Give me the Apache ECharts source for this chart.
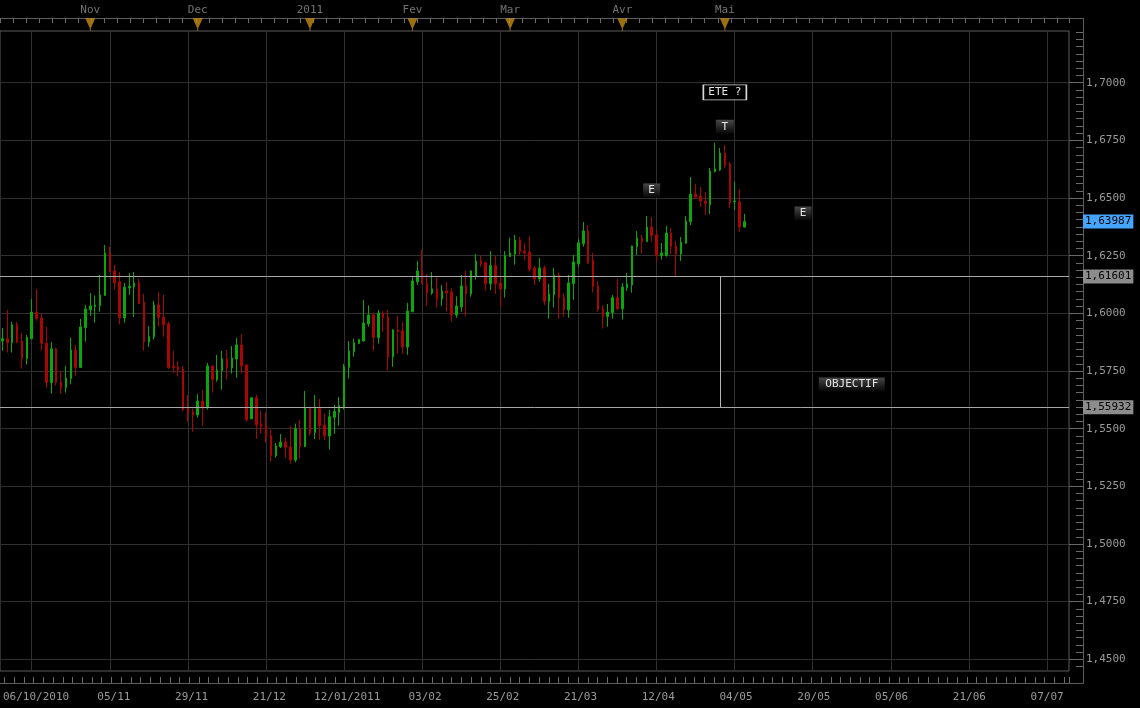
<!DOCTYPE html>
<html><head><meta charset="utf-8">
<script src="https://cdn.jsdelivr.net/npm/echarts@6/dist/echarts.min.js"></script>
<style>html,body{margin:0;padding:0;background:#000;}#c{width:1140px;height:708px;}</style>
</head><body><div id="c"></div>
<script>
// ---------------- DATA ----------------
const opens = [1.5880,1.5890,1.5873,1.5950,1.5880,1.5804,1.5890,1.6006,1.5980,1.5871,
1.5700,1.5846,1.5702,1.5678,1.5717,1.5841,1.5765,1.5938,1.6016,1.6029,
1.6033,1.6077,1.6262,1.6184,1.6137,1.5980,1.6110,1.6114,1.6132,1.6049,
1.5876,1.5898,1.6036,1.5984,1.5954,1.5772,1.5768,1.5759,1.5588,1.5574,
1.5559,1.5620,1.5594,1.5772,1.5713,1.5752,1.5802,1.5763,1.5802,1.5863,
1.5776,1.5543,1.5634,1.5522,1.5513,1.5470,1.5383,1.5422,1.5442,1.5421,
1.5364,1.5500,1.5422,1.5591,1.5483,1.5587,1.5516,1.5468,1.5549,1.5570,
1.5594,1.5765,1.5834,1.5869,1.5880,1.5954,1.5993,1.5895,1.6000,1.5984,
1.5811,1.5928,1.5924,1.5854,1.6007,1.6137,1.6184,1.6130,1.6088,1.6106,
1.6062,1.6097,1.6093,1.5993,1.6028,1.6119,1.6084,1.6161,1.6227,1.6220,
1.6129,1.6207,1.6132,1.6106,1.6246,1.6257,1.6318,1.6270,1.6266,1.6197,
1.6149,1.6197,1.6051,1.6080,1.6166,1.6070,1.6015,1.6129,1.6215,1.6302,
1.6357,1.6231,1.6119,1.6019,1.5986,1.6003,1.6068,1.6020,1.6111,1.6123,
1.6289,1.6327,1.6311,1.6374,1.6340,1.6250,1.6250,1.6348,1.6292,1.6257,
1.6304,1.6397,1.6517,1.6509,1.6487,1.6470,1.6614,1.6621,1.6695,1.6647,
1.6484,1.6483,1.6374];
const closes = [1.5890,1.5873,1.5950,1.5876,1.5804,1.5895,1.6006,1.5977,1.5870,1.5700,
1.5846,1.5700,1.5678,1.5720,1.5841,1.5765,1.5941,1.6019,1.6032,1.6036,
1.6080,1.6262,1.6181,1.6132,1.5980,1.6114,1.6117,1.6132,1.6042,1.5876,
1.5900,1.6036,1.5981,1.5950,1.5765,1.5765,1.5754,1.5583,1.5568,1.5559,
1.5620,1.5594,1.5772,1.5713,1.5754,1.5802,1.5763,1.5806,1.5863,1.5772,
1.5539,1.5634,1.5516,1.5507,1.5465,1.5383,1.5425,1.5442,1.5418,1.5364,
1.5500,1.5422,1.5591,1.5480,1.5587,1.5513,1.5468,1.5552,1.5574,1.5600,
1.5768,1.5837,1.5873,1.5886,1.5958,1.5993,1.5895,1.6002,1.5981,1.5811,
1.5928,1.5921,1.5854,1.6010,1.6140,1.6184,1.6130,1.6090,1.6106,1.6062,
1.6097,1.6088,1.5993,1.6032,1.6119,1.6084,1.6184,1.6227,1.6215,1.6129,
1.6207,1.6129,1.6106,1.6250,1.6262,1.6318,1.6266,1.6262,1.6191,1.6149,
1.6197,1.6051,1.6084,1.6166,1.6068,1.6015,1.6132,1.6223,1.6306,1.6357,
1.6218,1.6116,1.6015,1.5986,1.6006,1.6068,1.6019,1.6114,1.6127,1.6292,
1.6327,1.6311,1.6374,1.6337,1.6252,1.6262,1.6348,1.6289,1.6257,1.6309,
1.6400,1.6517,1.6504,1.6487,1.6477,1.6617,1.6626,1.6695,1.6643,1.6478,
1.6487,1.6374,1.63987];
const lows = [1.5838,1.5830,1.5830,1.5870,1.5760,1.5778,1.5888,1.5968,1.5838,1.5678,
1.5652,1.5687,1.5652,1.5656,1.5692,1.5730,1.5763,1.5877,1.5990,1.5960,
1.6007,1.6075,1.6178,1.6103,1.5951,1.5960,1.6080,1.5984,1.6040,1.5838,
1.5854,1.5886,1.5942,1.5898,1.5759,1.5741,1.5726,1.5575,1.5530,1.5487,
1.5548,1.5513,1.5583,1.5656,1.5704,1.5669,1.5713,1.5739,1.5721,1.5739,
1.5530,1.5541,1.5455,1.5478,1.5439,1.5357,1.5374,1.5416,1.5374,1.5348,
1.5354,1.5370,1.5420,1.5470,1.5454,1.5452,1.5452,1.5409,1.5478,1.5513,
1.5583,1.5717,1.5812,1.5866,1.5877,1.5942,1.5837,1.5869,1.5919,1.5752,
1.5768,1.5825,1.5824,1.5820,1.6005,1.6123,1.6128,1.6032,1.6080,1.6026,
1.6032,1.6007,1.5964,1.5981,1.6007,1.5986,1.6072,1.6146,1.6202,1.6098,
1.6101,1.6085,1.6029,1.6068,1.6244,1.6211,1.6253,1.6231,1.6181,1.6123,
1.6137,1.6036,1.5977,1.6025,1.5977,1.5986,1.5981,1.6059,1.6201,1.6289,
1.6214,1.6090,1.6007,1.5934,1.5942,1.5977,1.6016,1.5973,1.6098,1.6090,
1.6253,1.6259,1.6309,1.6311,1.6224,1.6233,1.6246,1.6256,1.6162,1.6227,
1.6302,1.6383,1.6496,1.6461,1.6426,1.6431,1.6612,1.6617,1.6630,1.6457,
1.6448,1.6353,1.6372];
const highs = [1.5937,1.6015,1.5963,1.5963,1.5915,1.5906,1.6062,1.6106,1.6000,1.5941,
1.5876,1.5849,1.5750,1.5772,1.5893,1.5863,1.5976,1.6036,1.6088,1.6077,
1.6166,1.6296,1.6290,1.6210,1.6178,1.6132,1.6175,1.6179,1.6149,1.6084,
1.5945,1.6054,1.6093,1.6080,1.5963,1.5837,1.5793,1.5772,1.5646,1.5588,
1.5650,1.5668,1.5785,1.5774,1.5820,1.5837,1.5841,1.5858,1.5893,1.5910,
1.5778,1.5637,1.5646,1.5577,1.5570,1.5496,1.5438,1.5477,1.5461,1.5512,
1.5522,1.5538,1.5663,1.5596,1.5646,1.5629,1.5565,1.5581,1.5603,1.5637,
1.5781,1.5880,1.5890,1.5890,1.6058,1.6035,1.6004,1.6015,1.6009,1.6015,
1.5932,1.5989,1.5963,1.6045,1.6159,1.6227,1.6275,1.6171,1.6179,1.6156,
1.6123,1.6136,1.6108,1.6074,1.6166,1.6184,1.6186,1.6257,1.6250,1.6224,
1.6270,1.6249,1.6159,1.6270,1.6328,1.6340,1.6331,1.6304,1.6335,1.6205,
1.6240,1.6207,1.6127,1.6197,1.6178,1.6087,1.6166,1.6253,1.6322,1.6396,
1.6383,1.6262,1.6140,1.6036,1.6041,1.6080,1.6149,1.6132,1.6175,1.6294,
1.6357,1.6340,1.6422,1.6418,1.6361,1.6305,1.6379,1.6370,1.6314,1.6331,
1.6422,1.6591,1.6561,1.6548,1.6526,1.6630,1.6739,1.6717,1.6730,1.6656,
1.6569,1.6539,1.6431];

// number of bar slots on the time axis (trading days shown + future slots)
const nBars = 219;
// bottom date labels and the slot they sit on
const dateTickIdx = [6,22,38,54,70,86,102,118,134,150,166,182,198,214];
const dateTickLabels = ['06/10/2010','05/11','29/11','21/12','12/01/2011','03/02','25/02','21/03','12/04','04/05','20/05','05/06','21/06','07/07'];
// month markers on the top strip
const monthIdx = [18,40,63,84,104,127,148];
const monthLabels = ['Nov','Dec','2011','Fev','Mar','Avr','Mai'];
// y-axis ticks
const yMin = 1.45, yMax = 1.70, yStep = 0.025;
// horizontal levels (neckline, objective) and last price
const levels = [1.61601, 1.55932];
const lastPrice = 1.63987;
const objectiveIdx = 147;
// annotations
const noteTexts = ['ETE ?','T','E','E','OBJECTIF'];
const noteIdx = [148,148,133,164,174];
const noteValues = [1.6958,1.6809,1.6533,1.6433,1.5692];

// ---------------- CHART ----------------
const FONT = "'DejaVu Sans Mono', monospace";
const GREEN = '#0aa60a', RED = '#a80505';
const GRID = '#303030', FRAME = '#5c5c5c', TICK = '#6a6a6a', TXT = '#9a9a9a';

const categories = Array.from({length: nBars}, (_, i) => 'd' + i);
const ohlc = opens.map((o, i) => [o, closes[i], lows[i], highs[i]]);
const labelAt = {};
dateTickIdx.forEach((ix, k) => { labelAt[ix] = dateTickLabels[k]; });
const isDateTick = (i) => labelAt[i] !== undefined;
const fmt = (v, d) => v.toFixed(d).replace('.', ',');

const darkBox = new echarts.graphic.LinearGradient(0, 0, 0, 1, [
  {offset: 0, color: '#474747'}, {offset: 1, color: '#060606'}]);
const noteStyle = {
  'ETE ?': {size: [43, 15], item: {color: '#000', borderColor: '#d8d8d8', borderWidth: 1}},
  'T': {size: [18, 14], item: {color: darkBox}},
  'E': {size: [17, 14], item: {color: darkBox}},
  'OBJECTIF': {size: [66, 14], item: {color: darkBox}}
};

const levelLabel = (bg) => ({
  show: true, position: 'end', distance: 14, backgroundColor: bg, color: '#050505',
  padding: [2, 2, 1, 2], fontFamily: FONT, fontSize: 11
});

const option = {
  backgroundColor: '#000',
  animation: false,
  grid: [
    {left: 0, right: 71, top: 31, bottom: 37, show: true, borderColor: FRAME, borderWidth: 1, backgroundColor: 'transparent'},
    {left: 0, right: 71, top: 82.7, bottom: 48.7},
    {left: 0, right: 71, top: 32.25, bottom: 41.5},
    {left: 0, right: 71, top: 18, bottom: 677},
    {left: 0, right: 71, top: 671, bottom: 25}
  ],
  xAxis: [
    {gridIndex: 0, type: 'category', data: categories, boundaryGap: true, position: 'bottom',
     axisLine: {show: false},
     axisTick: {show: true, inside: true, length: 640, alignWithLabel: true, interval: isDateTick, lineStyle: {color: GRID}},
     axisLabel: {show: false}, splitLine: {show: false}},
    {gridIndex: 1, type: 'category', data: categories, boundaryGap: true, show: false},
    {gridIndex: 2, type: 'category', data: categories, boundaryGap: true, show: false},
    {gridIndex: 3, type: 'category', data: categories, boundaryGap: true, show: false, position: 'bottom'},
    {gridIndex: 3, type: 'value', min: 0, max: 1069, interval: 13.05, position: 'top',
     axisLine: {show: false}, axisTick: {show: true, inside: true, length: 5, lineStyle: {color: TICK}},
     axisLabel: {show: false}, splitLine: {show: false}},
    {gridIndex: 4, type: 'category', data: categories, boundaryGap: true, position: 'bottom',
     axisLine: {show: false},
     axisTick: {show: true, inside: true, length: 6, interval: 1, lineStyle: {color: TICK}},
     axisLabel: {show: true, interval: isDateTick, formatter: (v, i) => labelAt[i] || '',
                 color: TXT, fontFamily: FONT, fontSize: 11, margin: 9},
     splitLine: {show: false}}
  ],
  yAxis: [
    {gridIndex: 0, type: 'value', min: 0, max: 1, show: false},
    {gridIndex: 1, type: 'value', min: yMin, max: yMax, interval: yStep, position: 'right', offset: 14,
     axisLine: {show: false},
     axisTick: {show: true, inside: true, length: 14, lineStyle: {color: TICK}},
     axisLabel: {color: TXT, fontFamily: FONT, fontSize: 11, margin: 3, formatter: (v) => fmt(v, 4)},
     splitLine: {show: true, lineStyle: {color: GRID}}},
    {gridIndex: 2, type: 'value', min: 1.446875, max: 1.721875, interval: 0.003125, position: 'right', offset: 14,
     axisLine: {show: false},
     axisTick: {show: true, inside: true, length: 7, lineStyle: {color: TICK}},
     axisLabel: {show: false}, splitLine: {show: false}},
    {gridIndex: 3, type: 'value', min: 0, max: 1, show: false},
    {gridIndex: 4, type: 'value', min: 0, max: 1, show: false}
  ],
  graphic: [
    {type: 'line', silent: true, shape: {x1: 0, y1: 18.5, x2: 1083.5, y2: 18.5}, style: {stroke: FRAME, lineWidth: 1}},
    {type: 'line', silent: true, shape: {x1: 1083.5, y1: 18, x2: 1083.5, y2: 683.5}, style: {stroke: FRAME, lineWidth: 1}},
    {type: 'line', silent: true, shape: {x1: 0, y1: 683.5, x2: 1083.5, y2: 683.5}, style: {stroke: FRAME, lineWidth: 1}}
  ],
  series: [
    {
      type: 'candlestick', xAxisIndex: 1, yAxisIndex: 1, data: ohlc, barWidth: 2,
      itemStyle: {color: GREEN, color0: RED, borderColor: GREEN, borderColor0: RED, borderColorDoji: GREEN, borderWidth: 1},
      markLine: {
        silent: true, symbol: ['none', 'none'], animation: false, precision: 5,
        data: [
          {yAxis: levels[0], lineStyle: {color: '#a8a8a8', width: 1, type: 'solid'},
           label: Object.assign(levelLabel('#8c8c8c'), {formatter: fmt(levels[0], 5)})},
          {yAxis: levels[1], lineStyle: {color: '#a8a8a8', width: 1, type: 'solid'},
           label: Object.assign(levelLabel('#8c8c8c'), {formatter: fmt(levels[1], 5)})},
          {yAxis: lastPrice, lineStyle: {color: 'rgba(0,0,0,0)', width: 1},
           label: Object.assign(levelLabel('#45a4fb'), {formatter: fmt(lastPrice, 5)})},
          [{coord: [objectiveIdx, levels[0]], lineStyle: {color: '#b4b4b4', width: 1, type: 'solid'}, label: {show: false}},
           {coord: [objectiveIdx, levels[1]]}]
        ]
      },
      markPoint: {
        silent: true, animation: false,
        data: noteTexts.map((t, k) => ({
          name: t, coord: [noteIdx[k], noteValues[k]], symbol: 'rect',
          symbolSize: noteStyle[t].size, itemStyle: noteStyle[t].item,
          label: {show: true, position: 'inside', formatter: t, color: '#e4e4e4', fontFamily: FONT, fontSize: 11}
        }))
      }
    },
    {
      type: 'scatter', xAxisIndex: 3, yAxisIndex: 3, clip: false, silent: true,
      data: monthIdx.map((ix, k) => ({name: monthLabels[k], value: [ix, 0]})),
      symbol: 'path://M0,0 L10,0 L5.5,10 L5.5,12.5 L4.5,12.5 L4.5,10 Z',
      symbolSize: [10, 12.5], symbolOffset: [0, -6.5], symbolKeepAspect: false,
      itemStyle: {color: '#c48c10'},
      label: {show: true, position: 'top', distance: 3, formatter: (p) => p.name, color: '#8e8e8e', fontFamily: FONT, fontSize: 11}
    }
  ]
};

const chart = echarts.init(document.getElementById('c'), null, {renderer: 'canvas'});
chart.setOption(option);
</script>
</body></html>
